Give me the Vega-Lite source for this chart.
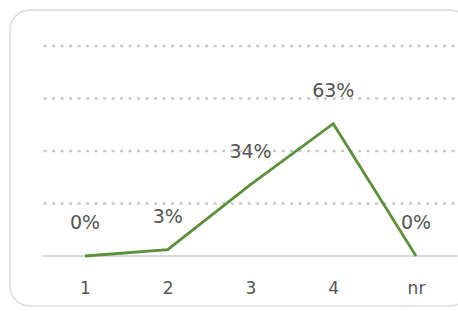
{
  "$schema": "https://vega.github.io/schema/vega-lite/v6.json",
  "width": 460,
  "height": 296,
  "padding": {"left": 10, "top": 10, "right": 0, "bottom": 5},
  "background": "white",
  "config": {
    "view": {"stroke": "#dcdcdc", "strokeWidth": 1.5, "cornerRadius": 20},
    "font": "DejaVu Sans"
  },
  "datasets": {
    "pts": [
      {"k": 1, "label": "1", "v": 0.0},
      {"k": 2, "label": "2", "v": 0.03},
      {"k": 3, "label": "3", "v": 0.34},
      {"k": 4, "label": "4", "v": 0.63},
      {"k": 5, "label": "nr", "v": 0.0}
    ],
    "grid": [{"g": 0.25}, {"g": 0.5}, {"g": 0.75}, {"g": 1.0}]
  },
  "layer": [
    {
      "data": {"name": "grid"},
      "mark": {"type": "rule", "color": "#c8c8c8", "strokeWidth": 2.5, "strokeDash": [3, 5.5]},
      "encoding": {
        "x": {
          "datum": 0.5, "type": "quantitative",
          "scale": {"domain": [0.0937, 5.6526], "nice": false, "zero": false},
          "axis": {
            "values": [1, 2, 3, 4, 5],
            "format": "d",
            "labelExpr": "datum.value == 5 ? 'nr' : datum.label",
            "domain": false, "ticks": false, "tickSize": 0, "grid": false,
            "offset": -18, "labelPadding": 0, "labelBaseline": "middle",
            "labelFontSize": 17, "labelColor": "#555555", "title": null
          }
        },
        "x2": {"datum": 5.5},
        "y": {"field": "g", "type": "quantitative", "scale": {"domain": [-0.238, 1.1714], "nice": false, "zero": false}, "axis": null}
      }
    },
    {
      "data": {"name": "pts"},
      "mark": {"type": "rule", "color": "#d9d9d9", "strokeWidth": 2},
      "encoding": {
        "x": {"datum": 0.5, "type": "quantitative"},
        "x2": {"datum": 5.5},
        "y": {"datum": 0, "type": "quantitative"}
      }
    },
    {
      "data": {"name": "pts"},
      "mark": {"type": "line", "color": "#5b8f3a", "strokeWidth": 2.8},
      "encoding": {
        "x": {"field": "k", "type": "quantitative"},
        "y": {"field": "v", "type": "quantitative"}
      }
    },
    {
      "data": {"name": "pts"},
      "mark": {"type": "text", "dy": -33, "fontSize": 19, "color": "#555555", "baseline": "middle"},
      "encoding": {
        "x": {"field": "k", "type": "quantitative"},
        "y": {"field": "v", "type": "quantitative"},
        "text": {"field": "v", "type": "quantitative", "format": ".0%"}
      }
    }
  ]
}
